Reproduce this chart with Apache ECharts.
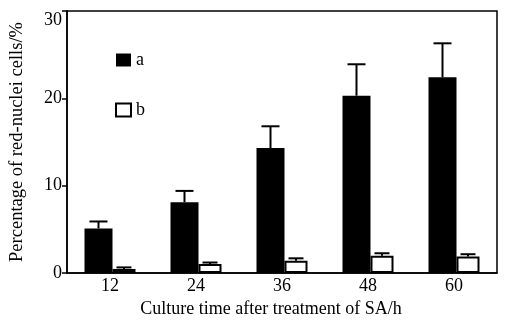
<!DOCTYPE html>
<html>
<head>
<meta charset="utf-8">
<script src="https://cdn.jsdelivr.net/npm/echarts@6/dist/echarts.min.js"></script>
<style>
  html, body { margin: 0; padding: 0; background: #fff; }
  #chart { width: 505px; height: 326px; }
</style>
</head>
<body>
<div id="chart"></div>
<script>
// culture time (h)
var categories = ['12', '24', '36', '48', '60'];
// percentage of red-nuclei cells (%)
var seriesA = [5.1, 8.1, 14.3, 20.3, 22.4];
var errorTopA = [5.9, 9.4, 16.8, 23.9, 26.3];
var seriesB = [0.46, 1.03, 1.4, 1.98, 1.9];
var errorTopB = [0.64, 1.2, 1.68, 2.26, 2.15];
var yTicks = [0, 10, 20, 30];

var widthA = 28, widthB = 23;
var font = 'Liberation Serif';

function errorBar(tops, values, offset, capW, lineW) {
  return {
    type: 'custom',
    silent: true,
    z: 5,
    data: values.map(function (v, i) { return [i, v, tops[i]]; }),
    renderItem: function (params, api) {
      var base = api.coord([api.value(0), api.value(1)]);
      var top = api.coord([api.value(0), api.value(2)]);
      var x = base[0] + offset;
      return {
        type: 'group',
        children: [
          { type: 'line', shape: { x1: x, y1: base[1], x2: x, y2: top[1] },
            style: { stroke: '#000', lineWidth: lineW } },
          { type: 'line', shape: { x1: x - capW / 2, y1: top[1], x2: x + capW / 2, y2: top[1] },
            style: { stroke: '#000', lineWidth: 2 } }
        ]
      };
    }
  };
}

var total = widthA + widthB;
var offA = -total / 2 + widthA / 2;
var offB = -total / 2 + widthA + widthB / 2;

var myChart = echarts.init(document.getElementById('chart'));
myChart.setOption({
  animation: false,
  textStyle: { fontFamily: font, color: '#000' },
  grid: {
    left: 67, right: 8, top: 11, bottom: 53,
    show: true, borderColor: '#000', borderWidth: 1.5
  },
  legend: {
    orient: 'vertical',
    left: 110, top: 46,
    itemWidth: 15, itemHeight: 13, itemGap: 32,
    textStyle: { fontFamily: font, fontSize: 18, color: '#000' },
    data: [
      { name: 'a', icon: 'rect', itemStyle: { color: '#000' } },
      { name: 'b', icon: 'rect', itemStyle: { color: '#fff', borderColor: '#000', borderWidth: 2 } }
    ]
  },
  xAxis: {
    type: 'category',
    data: categories,
    name: 'Culture time after treatment of SA/h',
    nameLocation: 'middle',
    nameGap: 24,
    nameTextStyle: { fontFamily: font, fontSize: 18, color: '#000', padding: [0, 22, 0, 0] },
    axisLine: { lineStyle: { color: '#000', width: 1.5 } },
    axisTick: { inside: true, length: 5, lineStyle: { color: '#000', width: 1.5 } },
    axisLabel: { fontFamily: font, fontSize: 18, color: '#000', margin: 4 }
  },
  yAxis: {
    type: 'value',
    min: yTicks[0], max: yTicks[yTicks.length - 1], interval: 10,
    name: 'Percentage of red-nuclei cells/%',
    nameLocation: 'middle',
    nameGap: 40,
    nameTextStyle: { fontFamily: font, fontSize: 18.5, color: '#000' },
    splitLine: { show: false },
    axisLine: { show: true, lineStyle: { color: '#000', width: 1.5 } },
    axisTick: { show: true, length: 5, lineStyle: { color: '#000', width: 1.5 } },
    axisLabel: { fontFamily: font, fontSize: 18, color: '#000', margin: 5, verticalAlignMaxLabel: 'top' }
  },
  series: [
    {
      name: 'a', type: 'bar', data: seriesA, barWidth: widthA, barGap: 0,
      itemStyle: { color: '#000' }
    },
    {
      name: 'b', type: 'bar', data: seriesB, barWidth: widthB, barGap: 0,
      itemStyle: { color: '#fff', borderColor: '#000', borderWidth: 2 }
    },
    errorBar(errorTopA, seriesA, offA, 18, 2),
    errorBar(errorTopB, seriesB, offB, 15, 2)
  ]
});
</script>
</body>
</html>
